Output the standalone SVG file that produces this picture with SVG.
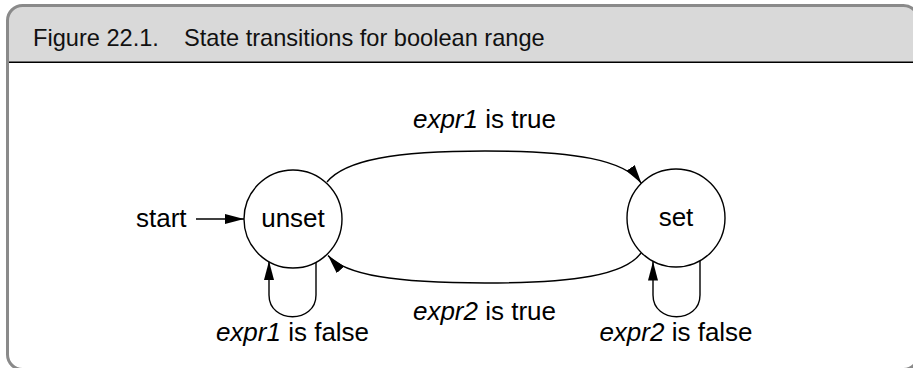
<svg xmlns="http://www.w3.org/2000/svg" width="913" height="368" viewBox="0 0 913 368">
<style>
  text { font-family: "Liberation Sans", Arial, sans-serif; fill: #000; }
  .hdr { font-size: 23.6px; fill: #111; }
  .lbl { font-size: 26px; }
  .it { font-style: italic; }
  .node circle { fill: #fff; stroke: #000; stroke-width: 1.4; }
  .edge { fill: none; stroke: #000; stroke-width: 1.4; marker-end: url(#arrow); }
</style>
<defs>
  <marker id="arrow" viewBox="0 0 19 10" refX="19" refY="5" markerWidth="19" markerHeight="10" markerUnits="userSpaceOnUse" orient="auto">
    <path d="M0,0 L19,5 L0,10 Z" fill="#000"/>
  </marker>
</defs>
<rect x="0" y="0" width="913" height="368" fill="#fff"/>
<g id="frame">
  <path d="M7.5,62 L7.5,20.5 A15,15 0 0 1 22.5,5.5 L903.5,5.5 A15,15 0 0 1 918.5,20.5 L918.5,62 Z" fill="#d9d9d9"/>
  <line x1="7.5" y1="62.2" x2="918.5" y2="62.2" stroke="#000" stroke-width="1.5"/>
  <rect x="7.5" y="5.5" width="911" height="364" rx="15" ry="15" fill="none" stroke="#8a8a8a" stroke-width="3"/>
  <text class="hdr" x="33" y="46">Figure 22.1.</text>
  <text class="hdr" x="184" y="46">State transitions for boolean range</text>
</g>
<g id="connectors">
  <line class="edge" x1="196" y1="219" x2="244" y2="219"/>
  <path class="edge" d="M327,182 C345,160 395,151 485,151 C575,151 625,160 641.5,183.5"/>
  <path class="edge" d="M641,253 C625,275 575,283 485,283 C395,283 345,275 328,255.5"/>
  <path class="edge" d="M316,262 L316,295 C316,324 269,324 269,295 L269,261"/>
  <path class="edge" d="M700,261 L700,295 C700,324 653,324 653,295 L653,261.5"/>
</g>
<g id="start-label">
  <text class="lbl" x="136" y="227">start</text>
</g>
<g id="node-unset" class="node">
  <circle cx="293" cy="219" r="49"/>
  <text class="lbl" x="293" y="227" text-anchor="middle">unset</text>
</g>
<g id="node-set" class="node">
  <circle cx="676" cy="218" r="49"/>
  <text class="lbl" x="676" y="226" text-anchor="middle">set</text>
</g>
<g id="edge-labels">
  <text class="lbl" x="484.5" y="128" text-anchor="middle"><tspan class="it">expr1</tspan> is true</text>
  <text class="lbl" x="484.5" y="320" text-anchor="middle"><tspan class="it">expr2</tspan> is true</text>
  <text class="lbl" x="292.5" y="341" text-anchor="middle"><tspan class="it">expr1</tspan> is false</text>
  <text class="lbl" x="676" y="341" text-anchor="middle"><tspan class="it">expr2</tspan> is false</text>
</g>
</svg>
